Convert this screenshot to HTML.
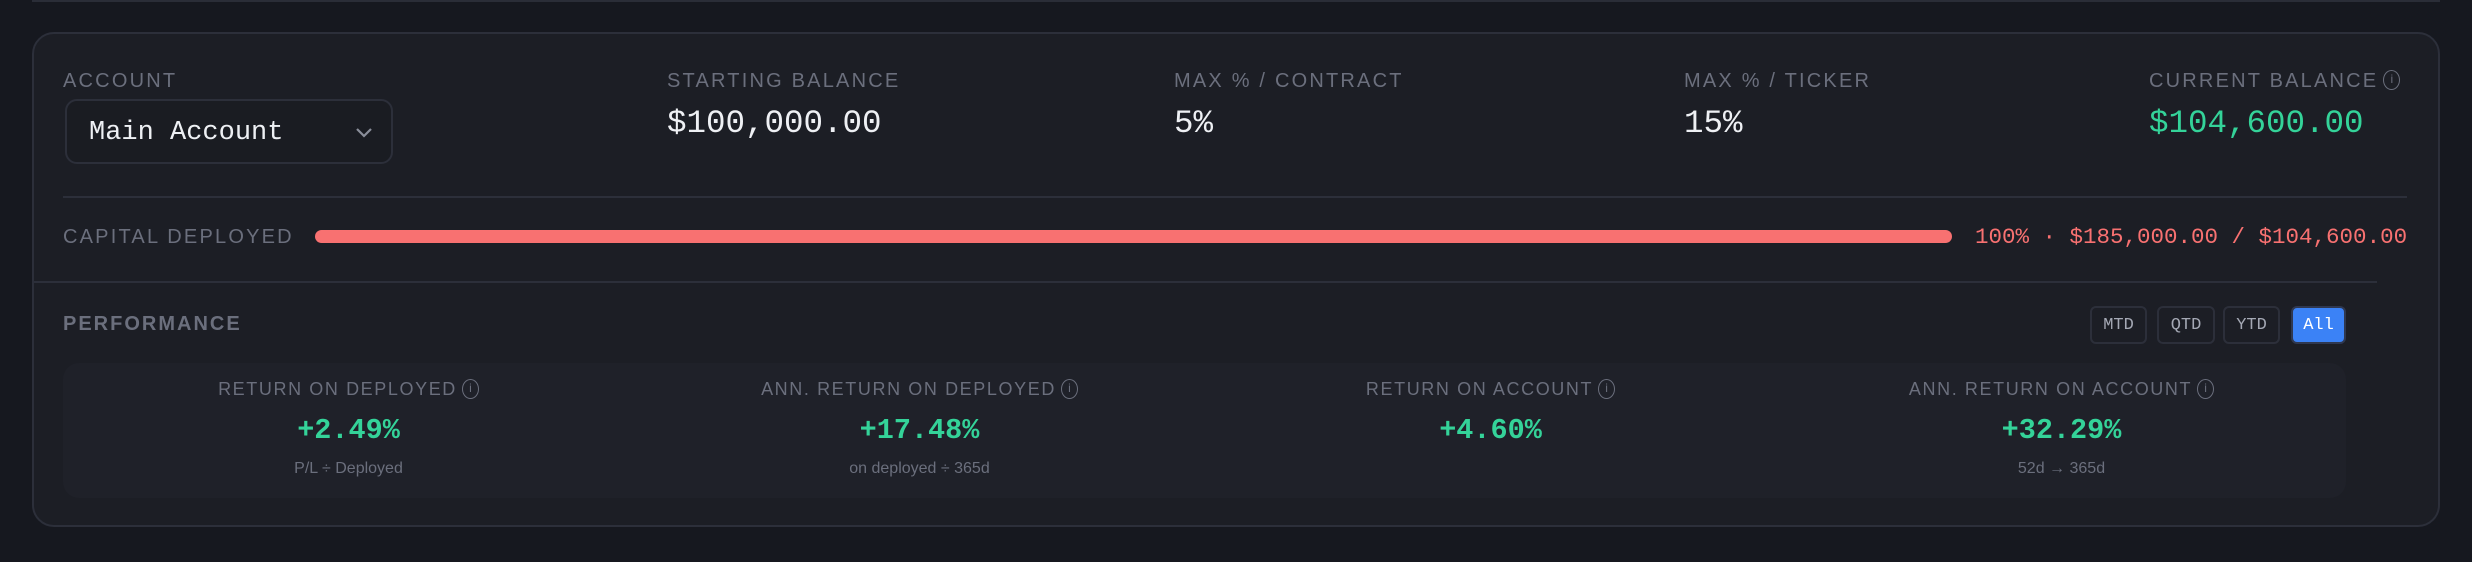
<!DOCTYPE html>
<html><head><meta charset="utf-8"><style>
*{margin:0;padding:0;box-sizing:border-box}
body{width:2472px;height:562px;background:#16181f;position:relative;overflow:hidden;font-family:"Liberation Sans",sans-serif}
.a{position:absolute;white-space:nowrap}
.lbl{color:#6b6f7d;font-size:20px;letter-spacing:2.2px;line-height:24px}
.val{color:#eef0f4;font-family:"Liberation Mono",monospace;font-size:32.5px;line-height:36px}
.btn{position:absolute;top:306px;height:38px;border:2px solid #2c2f3a;border-radius:6px;color:#a5a9b5;font-family:"Liberation Mono",monospace;font-size:17px;display:flex;align-items:center;justify-content:center}
.col{position:absolute;width:571px;text-align:center}
.ml{color:#6b6f7d;font-size:18px;letter-spacing:1.6px;line-height:22px}
.mv{color:#34d399;font-family:"Liberation Mono",monospace;font-weight:bold;font-size:28.5px;line-height:32px}
.ms{color:#6b6f7d;font-size:16px;line-height:20px}
.info{display:inline-block;width:17px;height:20px;border:1.5px solid #6b6f7d;border-radius:50%;font-size:12px;line-height:17px;text-align:center;letter-spacing:0;vertical-align:top;margin-left:5px;margin-top:1px}
</style></head><body>
<div class="a" style="left:32px;top:0;width:2408px;height:2px;background:#2a2d37"></div>
<div class="a" style="left:32px;top:32px;width:2408px;height:495px;background:#1c1e25;border:2px solid #2c2f3a;border-radius:22px"></div>

<div class="a lbl" style="left:63px;top:69px">ACCOUNT</div>
<div class="a" style="left:65px;top:99px;width:328px;height:65px;border:2px solid #2c2f3a;border-radius:12px;background:#1a1c22">
  <span class="a" style="left:22px;top:15px;color:#eef0f4;font-family:'Liberation Mono',monospace;font-size:27px;line-height:34px">Main Account</span>
  <svg class="a" style="left:288px;top:26px" width="18" height="12"><polyline points="2,2 9,9 16,2" fill="none" stroke="#8a8e9a" stroke-width="2.2"/></svg>
</div>

<div class="a lbl" style="left:667px;top:69px">STARTING BALANCE</div>
<div class="a val" style="left:667px;top:106px">$100,000.00</div>
<div class="a lbl" style="left:1174px;top:69px">MAX % / CONTRACT</div>
<div class="a val" style="left:1174px;top:106px">5%</div>
<div class="a lbl" style="left:1684px;top:69px">MAX % / TICKER</div>
<div class="a val" style="left:1684px;top:106px">15%</div>
<div class="a lbl" style="left:2149px;top:69px">CURRENT BALANCE<span class="info">i</span></div>
<div class="a val" style="left:2149px;top:106px;color:#34d399">$104,600.00</div>

<div class="a" style="left:63px;top:196px;width:2344px;height:2px;background:#2c2f3a"></div>

<div class="a lbl" style="left:63px;top:225px">CAPITAL DEPLOYED</div>
<div class="a" style="left:315px;top:230px;width:1637px;height:13px;background:#f87171;border-radius:7px"></div>
<div class="a" style="left:1975px;top:223px;color:#f87171;font-family:'Liberation Mono',monospace;font-size:22.5px;line-height:28px">100% · $185,000.00 / $104,600.00</div>

<div class="a" style="left:32px;top:281px;width:2345px;height:2px;background:#2c2f3a"></div>

<div class="a lbl" style="left:63px;top:312px;font-weight:bold;letter-spacing:2px">PERFORMANCE</div>
<div class="btn" style="left:2090px;width:57px">MTD</div>
<div class="btn" style="left:2157px;width:58px">QTD</div>
<div class="btn" style="left:2223px;width:57px">YTD</div>
<div class="btn" style="left:2291px;width:55px;background:#3b82f6;color:#fff;border-color:#2f3850">All</div>

<div class="a" style="left:63px;top:363px;width:2283px;height:135px;background:#1f2129;border-radius:16px"></div>

<div class="col" style="left:63px;top:378px">
  <div class="ml">RETURN ON DEPLOYED<span class="info">i</span></div>
  <div class="mv" style="margin-top:15px">+2.49%</div>
  <div class="ms" style="margin-top:12px">P/L ÷ Deployed</div>
</div>
<div class="col" style="left:634px;top:378px">
  <div class="ml">ANN. RETURN ON DEPLOYED<span class="info">i</span></div>
  <div class="mv" style="margin-top:15px">+17.48%</div>
  <div class="ms" style="margin-top:12px">on deployed ÷ 365d</div>
</div>
<div class="col" style="left:1205px;top:378px">
  <div class="ml">RETURN ON ACCOUNT<span class="info">i</span></div>
  <div class="mv" style="margin-top:15px">+4.60%</div>
</div>
<div class="col" style="left:1776px;top:378px">
  <div class="ml">ANN. RETURN ON ACCOUNT<span class="info">i</span></div>
  <div class="mv" style="margin-top:15px">+32.29%</div>
  <div class="ms" style="margin-top:12px">52d → 365d</div>
</div>
</body></html>
